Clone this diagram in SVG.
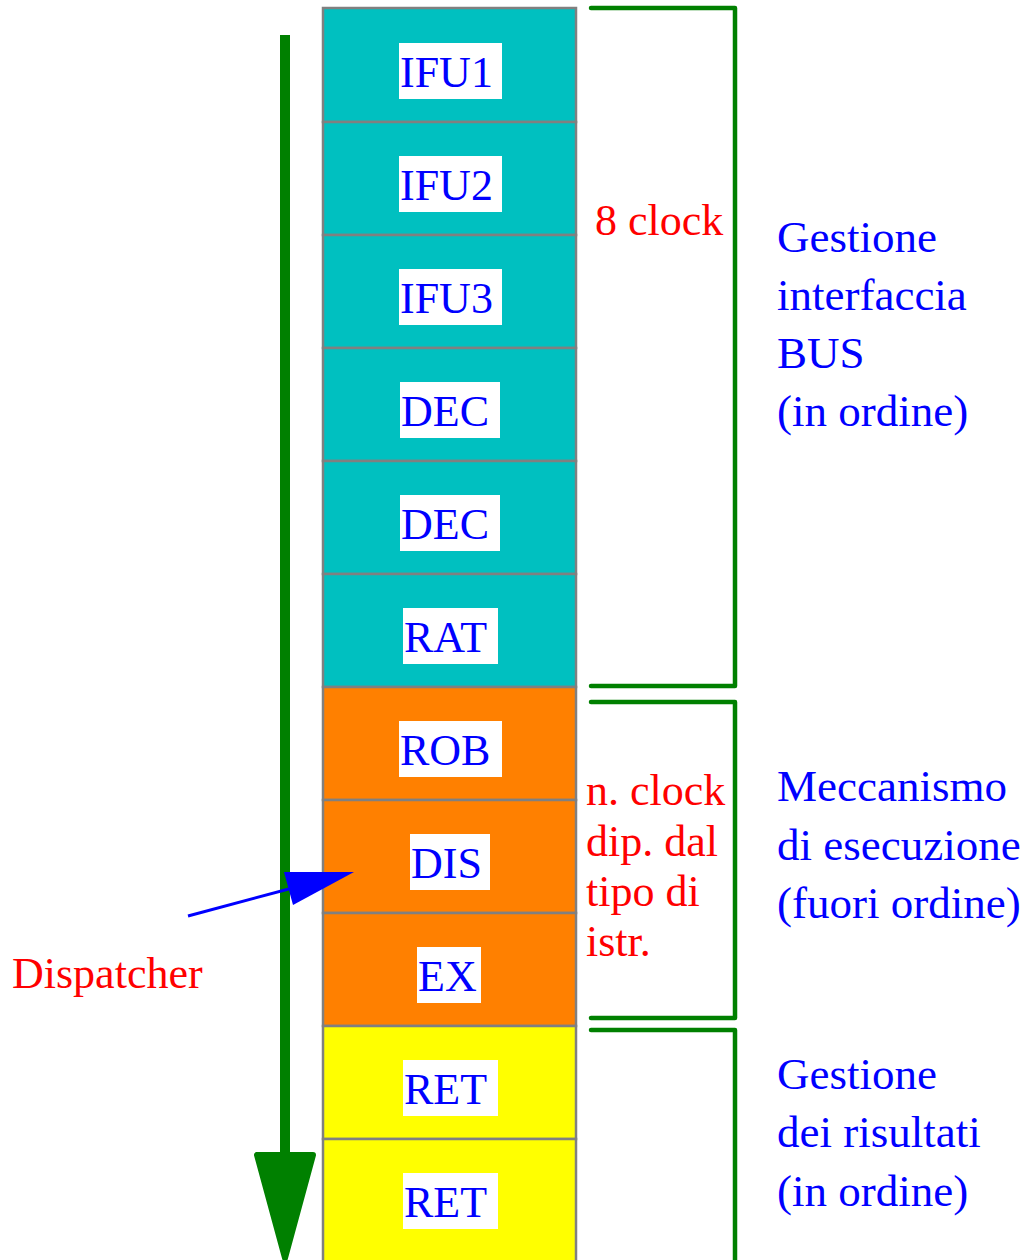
<svg xmlns="http://www.w3.org/2000/svg" width="1028" height="1260" viewBox="0 0 1028 1260">
<style>
.st{stroke:#808080;stroke-width:2.5}
.lb{fill:#fff}
.t{font-family:"Liberation Serif","Times New Roman",serif;font-size:44px;fill:#0000ff}
.r{font-family:"Liberation Serif","Times New Roman",serif;font-size:44px;fill:#ff0000}
.b{font-family:"Liberation Serif","Times New Roman",serif;font-size:45px;fill:#0000ff}
.br{fill:none;stroke:#008000;stroke-width:4.5;stroke-linecap:round;stroke-linejoin:round}
</style>
<rect width="1028" height="1260" fill="#fff"/>
<g id="stages">
<g id="IFU1"><rect class="st" x="323" y="8" width="253" height="114" fill="#00c0c0"/><rect class="lb" x="399" y="43" width="103" height="56"/><text class="t" x="400" y="87">IFU1</text></g>
<g id="IFU2"><rect class="st" x="323" y="122" width="253" height="113" fill="#00c0c0"/><rect class="lb" x="399" y="156" width="103" height="56"/><text class="t" x="400" y="200">IFU2</text></g>
<g id="IFU3"><rect class="st" x="323" y="235" width="253" height="113" fill="#00c0c0"/><rect class="lb" x="399" y="269" width="103" height="56"/><text class="t" x="400" y="313">IFU3</text></g>
<g id="DEC1"><rect class="st" x="323" y="348" width="253" height="113" fill="#00c0c0"/><rect class="lb" x="400" y="382" width="100" height="56"/><text class="t" x="401" y="426">DEC</text></g>
<g id="DEC2"><rect class="st" x="323" y="461" width="253" height="113" fill="#00c0c0"/><rect class="lb" x="400" y="495" width="100" height="56"/><text class="t" x="401" y="539">DEC</text></g>
<g id="RAT"><rect class="st" x="323" y="574" width="253" height="113" fill="#00c0c0"/><rect class="lb" x="403" y="608" width="95" height="56"/><text class="t" x="404" y="652">RAT</text></g>
<g id="ROB"><rect class="st" x="323" y="687" width="253" height="113" fill="#ff8000"/><rect class="lb" x="399" y="721" width="103" height="56"/><text class="t" x="400" y="765">ROB</text></g>
<g id="DIS"><rect class="st" x="323" y="800" width="253" height="113" fill="#ff8000"/><rect class="lb" x="410" y="834" width="80" height="56"/><text class="t" x="411" y="878">DIS</text></g>
<g id="EX"><rect class="st" x="323" y="913" width="253" height="113" fill="#ff8000"/><rect class="lb" x="417" y="947" width="64" height="56"/><text class="t" x="418" y="991">EX</text></g>
<g id="RET1"><rect class="st" x="323" y="1026" width="253" height="113" fill="#ffff00"/><rect class="lb" x="403" y="1060" width="95" height="56"/><text class="t" x="404" y="1104">RET</text></g>
<g id="RET2"><rect class="st" x="323" y="1139" width="253" height="130" fill="#ffff00"/><rect class="lb" x="403" y="1173" width="95" height="56"/><text class="t" x="404" y="1217">RET</text></g>
</g>
<g id="connectors">
<line x1="285" y1="35" x2="285" y2="1160" stroke="#008000" stroke-width="10"/>
<polygon points="257,1155 313,1155 285,1258" fill="#008000" stroke="#008000" stroke-width="6" stroke-linejoin="round"/>
<path class="br" d="M591,8 H735 V686 H591"/>
<path class="br" d="M591,702 H735 V1018 H591"/>
<path class="br" d="M591,1030 H735 V1268"/>
<line x1="188" y1="916" x2="300" y2="886" stroke="#0000ff" stroke-width="3"/>
<polygon points="354,872 284,872 293,905" fill="#0000ff"/>
</g>
<g id="labels">
<text class="r" x="595" y="235">8 clock</text>
<text class="b" x="777" y="252">Gestione</text>
<text class="b" x="777" y="310">interfaccia</text>
<text class="b" x="777" y="368">BUS</text>
<text class="b" x="777" y="426">(in ordine)</text>
<text class="r" x="586" y="805">n. clock</text>
<text class="r" x="586" y="856">dip. dal</text>
<text class="r" x="586" y="906">tipo di</text>
<text class="r" x="586" y="956">istr.</text>
<text class="b" x="777" y="801">Meccanismo</text>
<text class="b" x="777" y="860">di esecuzione</text>
<text class="b" x="777" y="918">(fuori ordine)</text>
<text class="b" x="777" y="1089">Gestione</text>
<text class="b" x="777" y="1147">dei risultati</text>
<text class="b" x="777" y="1206">(in ordine)</text>
<text class="r" x="12" y="988">Dispatcher</text>
</g>
</svg>
